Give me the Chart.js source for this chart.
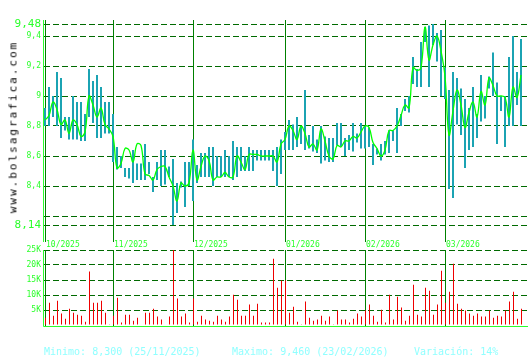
<!DOCTYPE html>
<html>
<head>
<meta charset="utf-8">
<script src="https://cdn.jsdelivr.net/npm/chart.js@4/dist/chart.umd.min.js"></script>
<style>
  body { margin: 0; background: #fff; width: 530px; height: 360px; overflow: hidden; position: relative; }
  canvas { position: absolute; left: 0; }
  #price { top: 0; }
  #volume { top: 240px; }
  #site {
    position: absolute; left: 13px; top: 127px;
    transform: translate(-50%, -50%) rotate(-90deg);
    font: 11px 'DejaVu Sans Mono', monospace; letter-spacing: 2px;
    color: #000; white-space: nowrap;
  }
  .foot { position: absolute; top: 346px; font: 10px 'DejaVu Sans Mono', monospace; color: #90ffff; white-space: nowrap; }
</style>
</head>
<body>
<canvas id="price" width="530" height="250"></canvas>
<canvas id="volume" width="530" height="95"></canvas>
<div id="site">www.bolsagrafica.com</div>
<div class="foot" style="left:44px">Minimo: 8,300 (25/11/2025)</div>
<div class="foot" style="left:232px">Maximo: 9,460 (23/02/2026)</div>
<div class="foot" style="left:414px">Variación: 14%</div>
<script>
// Daily sessions, oldest first (index 0 = first session shown)
const closes = [8.84,8.87,8.96,8.91,8.81,8.84,8.75,8.84,8.81,8.73, 8.76,9.00,8.94,8.86,8.92,8.81,8.78,8.73,8.52,8.55,
                8.65,8.64,8.56,8.68,8.67,8.48,8.47,8.44,8.51,8.53, 8.53,8.46,8.40,8.30,8.42,8.40,8.42,8.64,8.44,8.53,
                8.60,8.57,8.44,8.46,8.46,8.49,8.46,8.46,8.60,8.56, 8.51,8.61,8.61,8.61,8.60,8.60,8.60,8.60,8.56,8.68,
                8.71,8.80,8.77,8.71,8.80,8.75,8.66,8.68,8.64,8.78, 8.70,8.60,8.58,8.67,8.66,8.70,8.70,8.73,8.72,8.76,
                8.80,8.79,8.69,8.65,8.60,8.64,8.77,8.77,8.80,8.87, 8.94,8.92,9.19,9.17,9.19,9.46,9.24,9.34,9.40,9.30,
                9.13,8.74,8.90,9.04,8.94,8.79,8.89,8.96,8.86,9.03, 8.94,9.12,9.07,9.00,9.00,8.99,8.86,9.06,8.99,9.14];
const highs = [8.92,9.06,9.00,9.16,9.12,8.86,8.86,9.00,8.96,8.96, 8.88,9.18,9.10,9.14,9.06,8.96,8.96,8.88,8.66,8.60,
               8.52,8.52,8.64,8.55,8.55,8.68,8.56,8.46,8.56,8.64, 8.64,8.53,8.58,8.42,8.43,8.56,8.56,8.71,8.54,8.62,
               8.62,8.66,8.66,8.60,8.60,8.64,8.60,8.70,8.66,8.66, 8.60,8.66,8.64,8.64,8.64,8.64,8.64,8.64,8.66,8.71,
               8.76,8.84,8.81,8.86,8.80,9.04,8.74,8.80,8.71,8.80, 8.73,8.72,8.72,8.82,8.82,8.72,8.74,8.82,8.75,8.82,
               8.80,8.79,8.68,8.65,8.68,8.70,8.77,8.77,8.92,8.88, 8.98,9.00,9.26,9.18,9.36,9.46,9.47,9.48,9.42,9.44,
               9.19,9.04,9.16,9.12,9.05,8.98,8.92,9.06,8.88,9.14, 9.00,9.13,9.29,9.09,9.00,9.00,9.26,9.40,9.16,9.38];
const lows = [8.80,8.80,8.86,8.80,8.72,8.77,8.71,8.71,8.71,8.70, 8.70,8.86,8.82,8.72,8.72,8.75,8.75,8.56,8.51,8.52,
              8.46,8.45,8.42,8.44,8.44,8.44,8.48,8.36,8.44,8.40, 8.41,8.46,8.14,8.22,8.39,8.26,8.40,8.30,8.42,8.46,
              8.46,8.46,8.40,8.46,8.46,8.46,8.46,8.44,8.46,8.50, 8.50,8.50,8.50,8.57,8.57,8.57,8.57,8.50,8.40,8.48,
              8.64,8.64,8.64,8.66,8.68,8.64,8.65,8.63,8.62,8.55, 8.57,8.56,8.56,8.67,8.66,8.60,8.64,8.63,8.69,8.65,
              8.65,8.66,8.54,8.61,8.57,8.61,8.62,8.70,8.62,8.80, 8.90,8.89,9.08,9.06,9.06,9.36,9.06,9.34,9.23,9.00,
              8.98,8.38,8.32,8.81,8.74,8.52,8.64,8.66,8.72,8.83, 8.85,9.05,9.00,8.68,8.90,8.66,8.80,8.80,8.94,8.80];
// volume in thousands of shares
const volumes = [2.4,7.4,3.1,8.1,3.8,2.1,5.4,4.1,3.4,3.1, 1.1,17.8,7.4,7.4,8.1,4.1,0.1,3.1,9.1,0.8,
                 3.4,3.4,1.4,2.4,0.2,4.1,4.1,5.4,2.8,1.8, 0.2,2.8,26,8.8,2.8,3.8,0.8,8.8,1.1,3.1,
                 1.8,1.4,1.1,3.1,1.8,1.1,2.8,10.1,8.4,3.1, 3.1,6.8,3.1,7.1,0.8,0.8,0.8,22.1,12.4,14.8,
                 14.8,4.1,6.1,1.1,0.1,7.8,2.4,1.4,1.8,3.1, 1.4,2.8,0.1,4.8,1.8,1.8,0.8,2.1,3.8,2.8,
                 4.8,6.8,3.1,1.1,5.1,0.8,10.1,1.8,9.4,5.8, 1.4,3.1,13.4,3.4,2.8,12.4,11.4,3.4,6.8,18.1,
                 7.4,11.1,20.4,7.1,5.4,4.8,3.8,3.1,3.8,2.8, 2.8,4.8,2.4,3.1,2.8,4.8,7.8,11.1,2.1,5.4];

const monthLabels = ['10/2025', '11/2025', '12/2025', '01/2026', '02/2026', '03/2026'];
const monthStart = [0, 17, 37, 60, 80, 100];   // session index of first day of each month
const priceTicks = [8.14, 8.2, 8.4, 8.6, 8.8, 9.0, 9.2, 9.4, 9.48];
const volumeTicks = [0, 5, 10, 15, 20, 25];

const GREEN = '#2bff2b';
const GRID = '#006a00';
const MONTH = '#008000';

// month separators, left axis and month labels
const frame = {
    id: 'frame',
    beforeDatasetsDraw(chart, args, opts) {
        const { ctx, chartArea, scales: { x } } = chart;
        ctx.save();
        ctx.lineWidth = 1;
        ctx.strokeStyle = MONTH;
        monthStart.forEach(idx => {
            const px = Math.floor(x.getPixelForValue(idx)) + 0.5;
            ctx.beginPath();
            ctx.moveTo(px, opts.top);
            ctx.lineTo(px, opts.bottom);
            ctx.stroke();
        });
        ctx.strokeStyle = GREEN;
        ctx.beginPath();
        ctx.moveTo(chartArea.left - 0.5, opts.top);
        ctx.lineTo(chartArea.left - 0.5, opts.axisBottom);
        if (opts.baseLine) {
            ctx.lineTo(chartArea.right, opts.axisBottom);
        }
        ctx.stroke();
        if (opts.labels) {
            ctx.fillStyle = GREEN;
            ctx.font = '8px "DejaVu Sans Mono", monospace';
            ctx.textBaseline = 'middle';
            monthStart.forEach((idx, k) => {
                ctx.fillText(monthLabels[k], Math.floor(x.getPixelForValue(idx)) + 1, opts.labelY);
            });
        }
        ctx.restore();
    }
};

// price: session i at x = 45 + 4*i (2px range bars); volume: 45.5 + 4*i (1px bars)
const xScale = shift => ({
    type: 'linear', min: -0.25 - shift, max: 120.75 - shift, offset: false,
    display: false, grid: { offset: false }
});

new Chart(document.getElementById('price'), {
    type: 'bar',
    data: {
        datasets: [{
            type: 'line',
            data: closes.map((c, i) => ({ x: i, y: c })),
            borderColor: '#00ff00',
            borderWidth: 1.3,
            pointRadius: 0,
            tension: 0.4,
            order: 0
        }, {
            type: 'bar',
            data: highs.map((h, i) => ({ x: i, y: [lows[i], h] })),
            backgroundColor: '#1ba3b3',
            barThickness: 2,
            inflateAmount: 0,
            order: 1
        }]
    },
    options: {
        responsive: false,
        animation: false,
        layout: { padding: { top: 24, bottom: 25, left: 0, right: 2 } },
        plugins: {
            legend: { display: false },
            tooltip: { enabled: false },
            frame: { top: 20, bottom: 242, axisBottom: 242, labels: true, labelY: 244.5 }
        },
        scales: {
            x: xScale(0),
            y: {
                min: 8.14, max: 9.48,
                afterBuildTicks: s => { s.ticks = priceTicks.map(v => ({ value: v })); },
                afterFit: s => { s.width = 44; },
                ticks: {
                    autoSkip: false,
                    padding: 3,
                    color: GREEN,
                    font: c => ({ family: '"DejaVu Sans Mono", monospace', size: (c.tick && (c.tick.value === 8.14 || c.tick.value === 9.48)) ? 11 : 8 }),
                    callback: v => v === 8.2 ? '' : String(v).replace('.', ',')
                },
                grid: { color: GRID, drawTicks: false },
                border: { display: false, dash: [6, 3] }
            }
        }
    },
    plugins: [frame]
});

new Chart(document.getElementById('volume'), {
    type: 'bar',
    data: {
        datasets: [{
            data: volumes.map((v, i) => ({ x: i, y: v })),
            backgroundColor: '#ee0000',
            barThickness: 1,
            inflateAmount: 0
        }]
    },
    options: {
        responsive: false,
        animation: false,
        layout: { padding: { top: 10, bottom: 10, left: 0, right: 2 } },
        plugins: {
            legend: { display: false },
            tooltip: { enabled: false },
            frame: { top: 10, bottom: 86, axisBottom: 86.5, baseLine: true, labels: false }
        },
        scales: {
            x: xScale(0.125),
            y: {
                min: 0, max: 25,
                afterBuildTicks: s => { s.ticks = volumeTicks.map(v => ({ value: v })); },
                afterFit: s => { s.width = 44; },
                ticks: {
                    autoSkip: false,
                    padding: 3,
                    color: GREEN,
                    font: { family: '"DejaVu Sans Mono", monospace', size: 8 },
                    callback: v => v === 0 ? '' : v + 'K'
                },
                grid: { color: c => (c.tick && c.tick.value === 0) ? 'rgba(0,0,0,0)' : GRID, drawTicks: false },
                border: { display: false, dash: [6, 3] }
            }
        }
    },
    plugins: [frame]
});
</script>
</body>
</html>
